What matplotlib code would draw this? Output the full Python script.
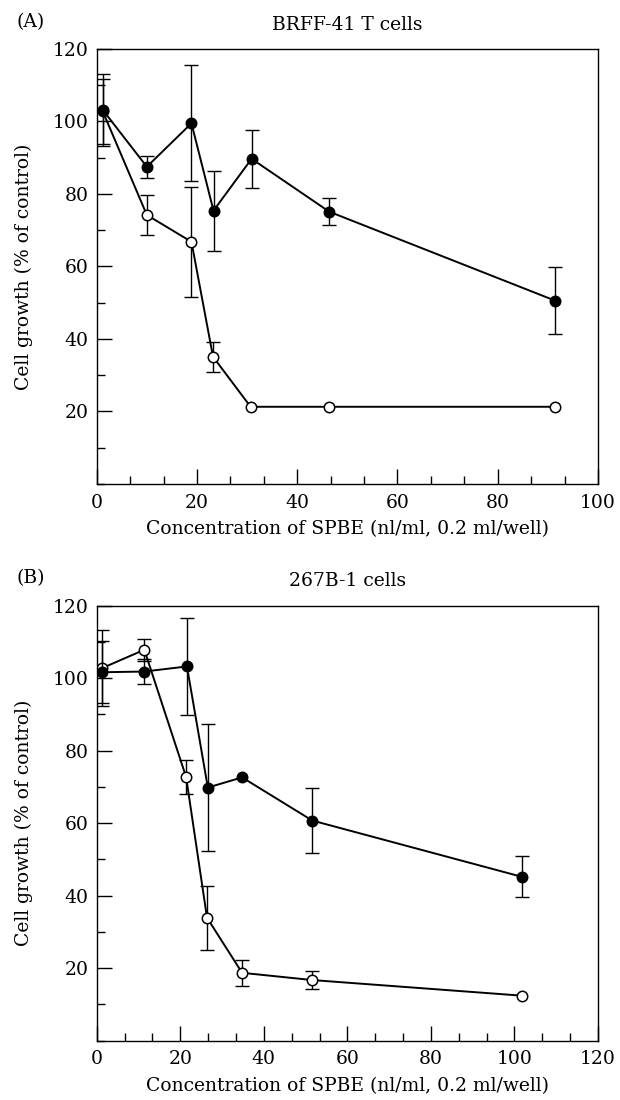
import matplotlib
matplotlib.use("Agg")
import matplotlib.pyplot as plt
from matplotlib.ticker import MultipleLocator, FixedLocator

plt.rcParams['font.family'] = ['DejaVu Serif']
plt.rcParams['mathtext.fontset'] = 'dejavuserif'

# panel A: BRFF-41 T cells
a_x_filled = [1.2, 10.0, 18.9, 23.3, 30.9, 46.4, 91.4]
a_y_filled = [103.2, 87.5, 99.5, 75.4, 89.7, 75.1, 50.6]
a_e_filled = [10.0, 3.0, 16.0, 11.0, 8.0, 3.7, 9.3]
a_x_open = [1.2, 10.0, 18.9, 23.2, 30.7, 46.4, 91.4]
a_y_open = [102.8, 74.2, 66.8, 35.1, 21.3, 21.3, 21.3]
a_e_open = [9.0, 5.5, 15.2, 4.2, 0.0, 0.0, 0.0]

# panel B: 267B-1 cells
b_x_filled = [1.2, 11.4, 21.6, 26.6, 34.8, 51.6, 101.7]
b_y_filled = [101.6, 101.8, 103.2, 69.8, 72.6, 60.7, 45.2]
b_e_filled = [8.5, 3.5, 13.5, 17.4, 0.0, 9.0, 5.7]
b_x_open = [1.2, 11.4, 21.4, 26.4, 34.8, 51.6, 101.7]
b_y_open = [102.7, 107.8, 72.7, 33.9, 18.7, 16.7, 12.4]
b_e_open = [10.5, 3.0, 4.6, 8.8, 3.6, 2.6, 0.0]

panels = [
    ("(A)", "BRFF-41 T cells", 100, a_x_filled, a_y_filled, a_e_filled,
     a_x_open, a_y_open, a_e_open),
    ("(B)", "267B-1 cells", 120, b_x_filled, b_y_filled, b_e_filled,
     b_x_open, b_y_open, b_e_open),
]

fs = 13.5
fig = plt.figure(figsize=(6.2, 11), dpi=100)
boxes = [[0.156, 0.560, 0.8085, 0.3955], [0.156, 0.054, 0.8085, 0.3955]]


def draw_series(ax, x, y, err, face, z):
    # only points with a visible spread get an error bar
    keep = [i for i, e in enumerate(err) if e > 0]
    ax.errorbar([x[i] for i in keep], [y[i] for i in keep], yerr=[err[i] for i in keep],
                fmt='none', ecolor='black', elinewidth=1.0, capsize=5, capthick=1.0, zorder=z)
    ax.plot(x, y, '-o', color='black', mfc=face, mec='black', ms=7.5, mew=1.1, lw=1.4,
            zorder=z)


for box, (tag, title, xmax, xf, yf, ef, xo, yo, eo) in zip(boxes, panels):
    ax = fig.add_axes(box)
    draw_series(ax, xo, yo, eo, 'white', 3)
    draw_series(ax, xf, yf, ef, 'black', 4)
    ax.set_xlim(0, xmax)
    ax.set_ylim(0, 120)
    ax.xaxis.set_major_locator(MultipleLocator(20))
    ax.xaxis.set_minor_locator(MultipleLocator(20 / 3))
    ax.yaxis.set_major_locator(FixedLocator([20, 40, 60, 80, 100, 120]))
    ax.yaxis.set_minor_locator(MultipleLocator(10))
    ax.tick_params(which='both', direction='in', top=False, right=False, labelsize=fs)
    ax.tick_params(which='major', length=11, width=1.0)
    ax.tick_params(which='minor', length=5.5, width=1.0)
    ax.tick_params(axis='x', pad=7)
    ax.tick_params(axis='y', pad=6)
    for s in ax.spines.values():
        s.set_linewidth(1.0)
    ax.set_xlabel("Concentration of SPBE (nl/ml, 0.2 ml/well)", fontsize=fs, labelpad=6)
    ax.set_ylabel("Cell growth (% of control)", fontsize=fs, labelpad=14)
    ax.set_title(title, fontsize=fs, pad=14)
    ax.text(-0.16, 1.062, tag, transform=ax.transAxes, fontsize=fs, va='center', ha='left')

fig.savefig("out.png", dpi=100)
